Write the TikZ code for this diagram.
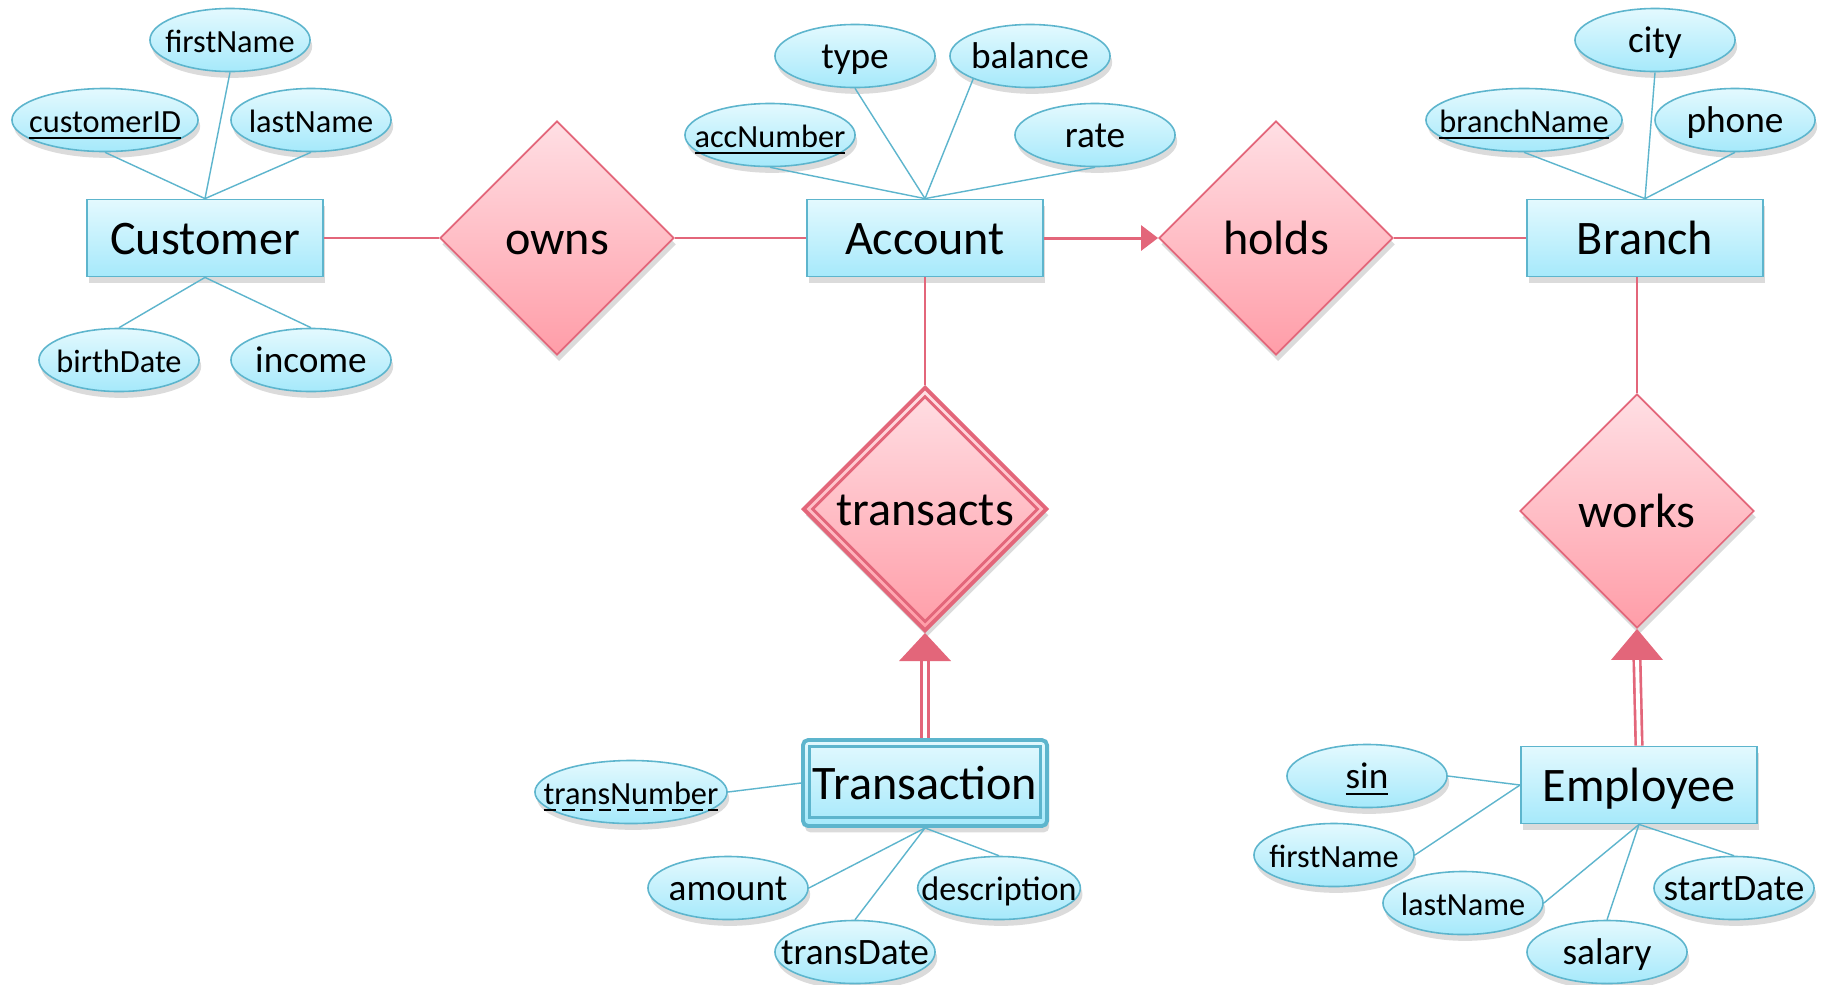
\documentclass[tikz,border=0pt]{standalone}
\usepackage{fontspec}
\setmainfont{Carlito}
\usetikzlibrary{shapes.geometric,arrows.meta,shadows,calc}
\definecolor{cyantop}{HTML}{E3F9FE}
\definecolor{cyanbot}{HTML}{A6E9FB}
\definecolor{attrline}{HTML}{5DB5CD}
\definecolor{pinktop}{HTML}{FFDFE4}
\definecolor{pinkbot}{HTML}{FF9DA8}
\definecolor{relline}{HTML}{E3667A}
\newlength\tnumwidth
\begin{document}
\settowidth\tnumwidth{\fontsize{9.2}{11}\selectfont transNumber}
\begin{tikzpicture}[x=0.01cm,y=-0.01cm,
  shdw/.style={drop shadow={shadow xshift=0.6pt,shadow yshift=-1.8pt,opacity=0.2,fill=black!70}},
  bigfont/.style={font=\fontsize{13.7}{16}\selectfont, text height=0.92em, text depth=0pt},
  attr/.style={ellipse, draw=attrline, line width=0.45pt, top color=cyantop, bottom color=cyanbot,
    minimum height=0.63cm, minimum width=1.6cm, inner ysep=0pt, inner xsep=-0.2cm,
    font=\fontsize{9.2}{11}\selectfont, text height=0.72em, text depth=0pt, shdw},
  attrL/.style={font=\fontsize{10.6}{12}\selectfont},
  entity/.style={rectangle, draw=attrline, line width=0.5pt, top color=cyantop, bottom color=cyanbot,
    minimum width=2.36cm, minimum height=0.77cm, inner sep=0pt, bigfont, shdw},
  rel/.style={diamond, aspect=1, draw=relline, line width=0.5pt, top color=pinktop, bottom color=pinkbot,
    minimum size=2.34cm, inner sep=0pt, bigfont, shdw},
  aline/.style={draw=attrline, line width=0.4pt},
  rline/.style={draw=relline, line width=0.4pt},
  rthick/.style={draw=relline, line width=0.7pt},
  dbl/.style={draw=relline, line width=0.75pt, double=white, double distance=1.1pt},
  tipfill/.style={fill=relline}
]
\fill[white] (0,0) rectangle (1825,984);
\useasboundingbox (0,0) rectangle (1825,984);

% relationships
\node[rel] (owns) at (557,238) {owns};
\node[rel] (holds) at (1276,238) {holds};
\node[rel] (works) at (1637,511) {works};
\node[rel, minimum size=2.44cm, line width=1.1pt] (transacts) at (925,509) {transacts};
\node[diamond, aspect=1, draw=relline, line width=0.8pt, minimum size=2.26cm, inner sep=0pt] (transin) at (925,509) {};

% entities
\node[entity] (cust) at (205,238) {Customer};
\node[entity] (acc) at (925,238) {Account};
\node[entity] (branch) at (1645,238) {Branch};
\node[entity] (emp) at (1639,785) {Employee};
\node[entity, minimum width=2.44cm, minimum height=0.86cm, line width=1.1pt, rounded corners=1.5pt] (trans) at (925,783) {Transaction};
\node[rectangle, draw=attrline, line width=0.9pt, minimum width=2.31cm, minimum height=0.71cm, inner sep=0pt] (transinner) at (925,782) {};

% Customer attributes
\node[attr] (cfirst) at (230,40) {firstName};
\node[attr, minimum width=1.86cm] (cid) at (105,120) {\underline{customerID}};
\node[attr] (clast) at (311,120) {lastName};
\node[attr] (cbirth) at (119,360) {birthDate};
\node[attr, attrL] (cinc) at (311,360) {income};

% Account attributes
\node[attr, attrL] (atype) at (855,56) {type};
\node[attr, attrL] (abal) at (1030,56) {balance};
\node[attr, minimum width=1.7cm] (anum) at (770,135) {\underline{accNumber}};
\node[attr, attrL] (arate) at (1095,135) {rate};

% Branch attributes
\node[attr, attrL] (bcity) at (1655,40) {city};
\node[attr, minimum width=1.96cm] (bname) at (1524,120) {\underline{branchName}};
\node[attr, attrL] (bphone) at (1735,120) {phone};

% Transaction attributes
\node[attr, minimum width=1.92cm] (tnum) at (631,792) {transNumber};
\draw[black, line width=0.5pt, dash pattern=on 3.6pt off 1.6pt]
  ([xshift=-0.5\tnumwidth, yshift=-1.6pt]tnum.base) -- ([xshift=0.5\tnumwidth, yshift=-1.6pt]tnum.base);
\node[attr, attrL] (tamount) at (728,888) {amount};
\node[attr, font=\fontsize{9.7}{11}\selectfont] (tdesc) at (999,888) {description};
\node[attr, attrL] (tdate) at (855,952) {transDate};

% Employee attributes
\node[attr, attrL] (esin) at (1367,776) {\underline{sin}};
\node[attr] (efirst) at (1334,855) {firstName};
\node[attr] (elast) at (1463,903) {lastName};
\node[attr, attrL] (esal) at (1607,952) {salary};
\node[attr, attrL] (estart) at (1734,888) {startDate};

% attribute lines
\draw[aline] (cid.south) -- (cust.north);
\draw[aline] (cfirst.south) -- (cust.north);
\draw[aline] (clast.south) -- (cust.north);
\draw[aline] (cust.south) -- (cbirth.north);
\draw[aline] (cust.south) -- (cinc.north);

\draw[aline] (anum.south) -- (acc.north);
\draw[aline] (atype.south) -- (acc.north);
\draw[aline] (abal.202) -- (acc.north);
\draw[aline] (arate.south) -- (acc.north);

\draw[aline] (bname.south) -- (branch.north);
\draw[aline] (bcity.south) -- (branch.north);
\draw[aline] (bphone.south) -- (branch.north);

\draw[aline] (tnum.east) -- (trans.west);
\draw[aline] (tamount.east) -- (trans.south);
\draw[aline] (tdate.north) -- (trans.south);
\draw[aline] (tdesc.north) -- (trans.south);

\draw[aline] (esin.east) -- (emp.west);
\draw[aline] (efirst.east) -- (emp.west);
\draw[aline] (elast.east) -- (emp.south);
\draw[aline] (esal.north) -- (emp.south);
\draw[aline] (estart.north) -- (emp.south);

% relationship lines
\draw[rthick] (cust.east) -- (owns.west);
\draw[rline] (owns.east) -- (acc.west);
\draw[draw=relline, line width=0.85pt, -{Triangle[length=0.17cm,width=0.25cm]}, color=relline] (acc.east) -- (holds.west);
\draw[rline] (holds.east) -- (branch.west);
\draw[rline] (acc.south) -- (transacts.north);
\draw[rline] (branch.south -| works.north) -- (works.north);

% total participation double lines with arrow tips
\coordinate (ttip) at ($(transacts.south)+(0,28)$);
\coordinate (wtip) at ($(works.south)+(0,31)$);
\draw[dbl] (trans.north) -- (ttip);
\draw[dbl] (emp.north) -- (wtip);
\fill[tipfill] (transacts.south) -- ++(-26,28) -- ++(52,0) -- cycle;
\fill[tipfill] (works.south) -- ++(-26,31) -- ++(52,0) -- cycle;
\end{tikzpicture}
\end{document}
